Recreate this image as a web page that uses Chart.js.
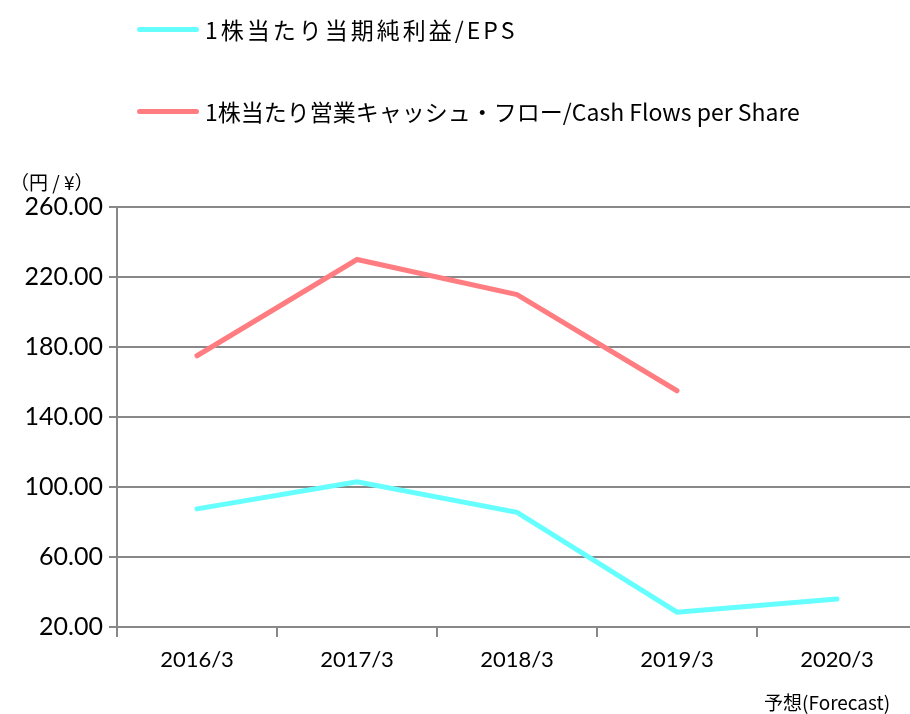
<!DOCTYPE html>
<html>
<head>
<meta charset="utf-8">
<script src="https://cdn.jsdelivr.net/npm/chart.js@4.4.1/dist/chart.umd.min.js"></script>
<style>
  html, body { margin: 0; padding: 0; background: #fff; }
  body { width: 910px; height: 714px; overflow: hidden; position: relative; font-family: "Noto Sans CJK JP", sans-serif; }
  #wrap { position: absolute; left: 0; top: 0; width: 917px; height: 714px; }
  .legendItem { position: absolute; left: 137px; display: flex; align-items: center; font-size: 23px; color: #000; white-space: nowrap; }
  .legendItem .swatch { width: 62px; height: 5px; border-radius: 3px; margin-right: 6px; }
  #unit { position: absolute; left: 10px; top: 168px; font-size: 19px; color: #000; }
  #forecast { position: absolute; left: 764px; top: 688px; font-size: 19px; color: #000; }
</style>
</head>
<body>
<div id="wrap"><canvas id="chart" width="917" height="714"></canvas></div>
<div class="legendItem" id="leg0" style="top:12px;letter-spacing:3px"><span class="swatch" style="background:#66FFFF"></span>1株当たり当期純利益/EPS</div>
<div class="legendItem" id="leg1" style="top:94px"><span class="swatch" style="background:#FF7C80"></span>1株当たり営業キャッシュ・フロー/Cash Flows per Share</div>
<div id="unit">（円 / ¥）</div>
<div id="forecast">予想(Forecast)</div>
<script>
const LABELS = ["2016/3", "2017/3", "2018/3", "2019/3", "2020/3"];
const EPS = [87.5, 103, 85.5, 28.5, 36];
const CFPS = [175, 230, 210, 155, null];
const SERIES_NAMES = ["1株当たり当期純利益/EPS", "1株当たり営業キャッシュ・フロー/Cash Flows per Share"];
const Y_MIN = 20;
const Y_MAX = 260;
const Y_STEP = 40;

const ctx = document.getElementById("chart").getContext("2d");
const chart = new Chart(ctx, {
  type: "line",
  data: {
    labels: LABELS,
    datasets: [
      {
        label: SERIES_NAMES[0],
        data: EPS,
        borderColor: "#66FFFF",
        borderWidth: 5,
        pointRadius: 0,
        borderCapStyle: "round",
        tension: 0,
        fill: false,
      },
      {
        label: SERIES_NAMES[1],
        data: CFPS,
        borderColor: "#FF7C80",
        borderWidth: 5,
        pointRadius: 0,
        borderCapStyle: "round",
        tension: 0,
        fill: false,
      },
    ],
  },
  options: {
    responsive: false,
    animation: false,
    layout: { padding: { top: 207, left: 0, right: 0, bottom: 0 } },
    plugins: {
      legend: { display: false },
      tooltip: { enabled: false },
    },
    scales: {
      x: {
        offset: true,
        grid: {
          display: true,
          drawOnChartArea: false,
          offset: true,
          color: "#888888",
          lineWidth: 2,
          tickLength: 10,
        },
        border: { color: "#888888", width: 2 },
        ticks: {
          color: "#000",
          font: { family: "Lato, 'Noto Sans', sans-serif", size: 22 },
          padding: 10,
          maxRotation: 0,
        },
        afterFit: (scale) => { scale.height = 87; },
      },
      y: {
        min: Y_MIN,
        max: Y_MAX,
        grid: {
          color: "#888888",
          lineWidth: 2,
          tickLength: 8,
        },
        border: { color: "#888888", width: 2 },
        ticks: {
          stepSize: Y_STEP,
          color: "#000",
          font: { family: "Lato, 'Noto Sans', sans-serif", size: 25 },
          padding: 6,
          callback: (v) => v.toFixed(2),
        },
        afterFit: (scale) => { scale.width = 117; },
      },
    },
  },
});
</script>
</body>
</html>
